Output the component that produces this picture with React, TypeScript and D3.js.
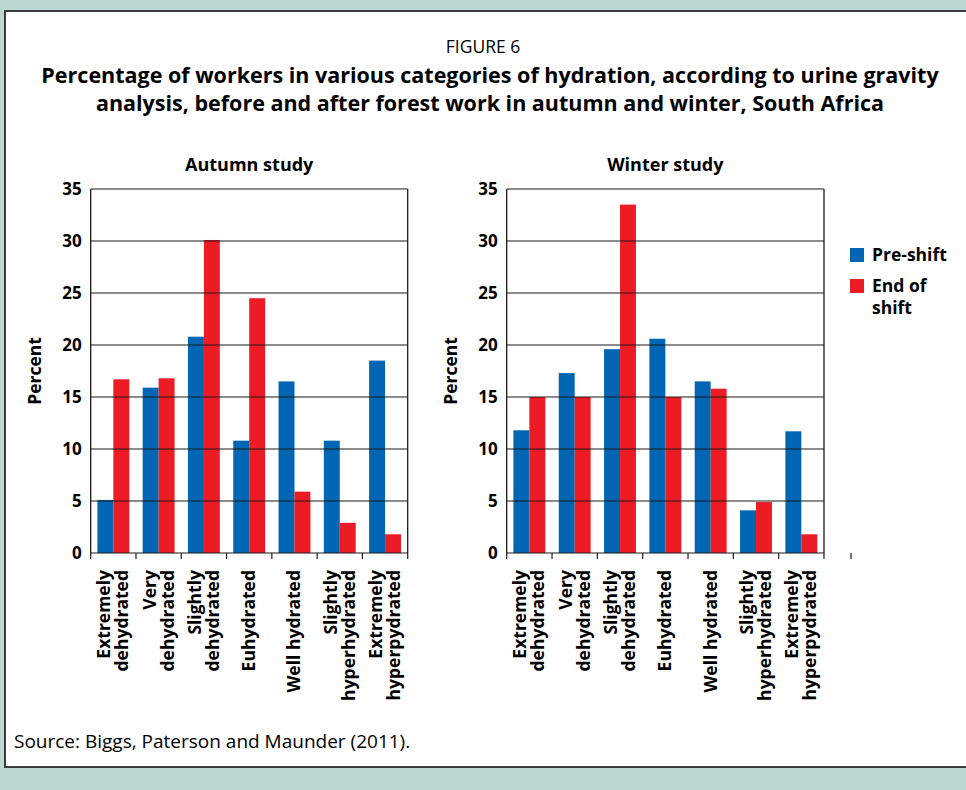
import React from "react";
import * as d3 from "d3";

// Catégories d'hydratation (lignes des étiquettes pivotées)
const categories = [
  "Extremely dehydrated",
  "Very dehydrated",
  "Slightly dehydrated",
  "Euhydrated",
  "Well hydrated",
  "Slightly hyperhydrated",
  "Extremely hyperpydrated",
];
const categoryLines = [
  ["Extremely", "dehydrated"],
  ["Very", "dehydrated"],
  ["Slightly", "dehydrated"],
  ["Euhydrated"],
  ["Well hydrated"],
  ["Slightly", "hyperhydrated"],
  ["Extremely", "hyperpydrated"],
];

const seriesNames = ["Pre-shift", "End of shift"];

// Valeurs (en %)
const autumnPre = [5.1, 15.9, 20.8, 10.8, 16.5, 10.8, 18.5];
const autumnEnd = [16.7, 16.8, 30.1, 24.5, 5.9, 2.9, 1.8];
const winterPre = [11.8, 17.3, 19.6, 20.6, 16.5, 4.1, 11.7];
const winterEnd = [15.0, 15.0, 33.5, 15.0, 15.8, 4.9, 1.8];

const yTicks = [0, 5, 10, 15, 20, 25, 30, 35];

const colors = ["#0066b3", "#ed1c24"];
const font = "'Open Sans', sans-serif";

const top = 189;
const bottom = 553;

const y = d3.scaleLinear().domain([0, 35]).range([bottom, top]);

type PanelProps = {
  title: string;
  pre: number[];
  end: number[];
  x0: number;
  x1: number;
};

function Panel({ title, pre, end, x0, x1 }: PanelProps) {
  const x = d3.scaleBand().domain(categories).range([x0, x1]).padding(0);
  const step = x.bandwidth();
  const xs = d3
    .scaleBand()
    .domain(seriesNames)
    .range([0, step])
    .paddingInner(0)
    .paddingOuter(0.42);
  const values = [pre, end];
  const bounds = d3.range(categories.length + 1).map((i) => x0 + i * step);

  return (
    <g>
      <text
        x={(x0 + x1) / 2}
        y={171}
        textAnchor="middle"
        fontWeight="bold"
        fontSize={18}
      >
        {title}
      </text>
      {/* barres */}
      {categories.map((c, i) =>
        seriesNames.map((s, j) => (
          <rect
            key={c + s}
            x={(x(c) as number) + (xs(s) as number)}
            y={y(values[j][i])}
            width={xs.bandwidth()}
            height={y(0) - y(values[j][i])}
            fill={colors[j]}
          />
        ))
      )}
      {/* grille */}
      {yTicks.map((t) => (
        <line
          key={t}
          x1={x0}
          x2={x1}
          y1={y(t)}
          y2={y(t)}
          stroke="#1a1a1a"
          strokeWidth={1.2}
        />
      ))}
      <line x1={x0} x2={x0} y1={top} y2={bottom} stroke="#1a1a1a" strokeWidth={1.3} />
      <line x1={x1} x2={x1} y1={top} y2={bottom} stroke="#1a1a1a" strokeWidth={1.3} />
      {bounds.map((b, i) => (
        <line key={i} x1={b} x2={b} y1={bottom} y2={bottom + 6} stroke="#1a1a1a" strokeWidth={1.2} />
      ))}
      {/* graduations */}
      {yTicks.map((t) => (
        <text
          key={t}
          x={x0 - 9}
          y={y(t)}
          dy="0.36em"
          textAnchor="end"
          fontWeight="bold"
          fontSize={17}
        >
          {t}
        </text>
      ))}
      <text
        transform={`translate(${x0 - 50},${(top + bottom) / 2}) rotate(-90)`}
        textAnchor="middle"
        fontWeight="bold"
        fontSize={17.5}
      >
        Percent
      </text>
      {/* étiquettes des catégories */}
      {categories.map((c, i) => {
        const lines = categoryLines[i];
        const cx = (x(c) as number) + step / 2;
        return lines.map((ln, k) => {
          const off = (k - (lines.length - 1) / 2) * 18;
          return (
            <text
              key={c + k}
              transform={`translate(${cx + off + 6},${bottom + 17}) rotate(-90)`}
              textAnchor="end"
              fontWeight="bold"
              fontSize={17.5}
            >
              {ln}
            </text>
          );
        });
      })}
    </g>
  );
}

export default function App() {
  return (
    <svg
      width={966}
      height={790}
      style={{ position: "absolute", left: 0, top: 0, fontFamily: font }}
    >
      <rect x={0} y={0} width={966} height={790} fill="#bcd7d2" />
      <rect x={5} y={11} width={1000} height={756} fill="#fff" stroke="#2b2b2b" strokeWidth={1.8} />
      <text x={483} y={53} textAnchor="middle" fontSize={17.5}>
        FIGURE 6
      </text>
      <text x={490} y={83} textAnchor="middle" fontWeight="bold" fontSize={21.5}>
        Percentage of workers in various categories of hydration, according to urine gravity
      </text>
      <text x={490} y={111} textAnchor="middle" fontWeight="bold" fontSize={21.5}>
        analysis, before and after forest work in autumn and winter, South Africa
      </text>

      <Panel title="Autumn study" pre={autumnPre} end={autumnEnd} x0={90.7} x1={407.7} />
      <Panel title="Winter study" pre={winterPre} end={winterEnd} x0={506.7} x1={824} />

      {/* petite marque isolée à droite du panneau hiver */}
      <line x1={851} x2={851} y1={553} y2={559} stroke="#1a1a1a" strokeWidth={1.2} />

      {/* légende */}
      <rect x={850} y={248} width={14} height={14} fill={colors[0]} />
      <text x={872} y={261} fontWeight="bold" fontSize={17.5}>
        Pre-shift
      </text>
      <rect x={850} y={279} width={14} height={14} fill={colors[1]} />
      <text x={872} y={292} fontWeight="bold" fontSize={17.5}>
        End of
      </text>
      <text x={872} y={314} fontWeight="bold" fontSize={17.5}>
        shift
      </text>

      <text x={14} y={748} fontSize={19}>
        Source: Biggs, Paterson and Maunder (2011).
      </text>
    </svg>
  );
}
